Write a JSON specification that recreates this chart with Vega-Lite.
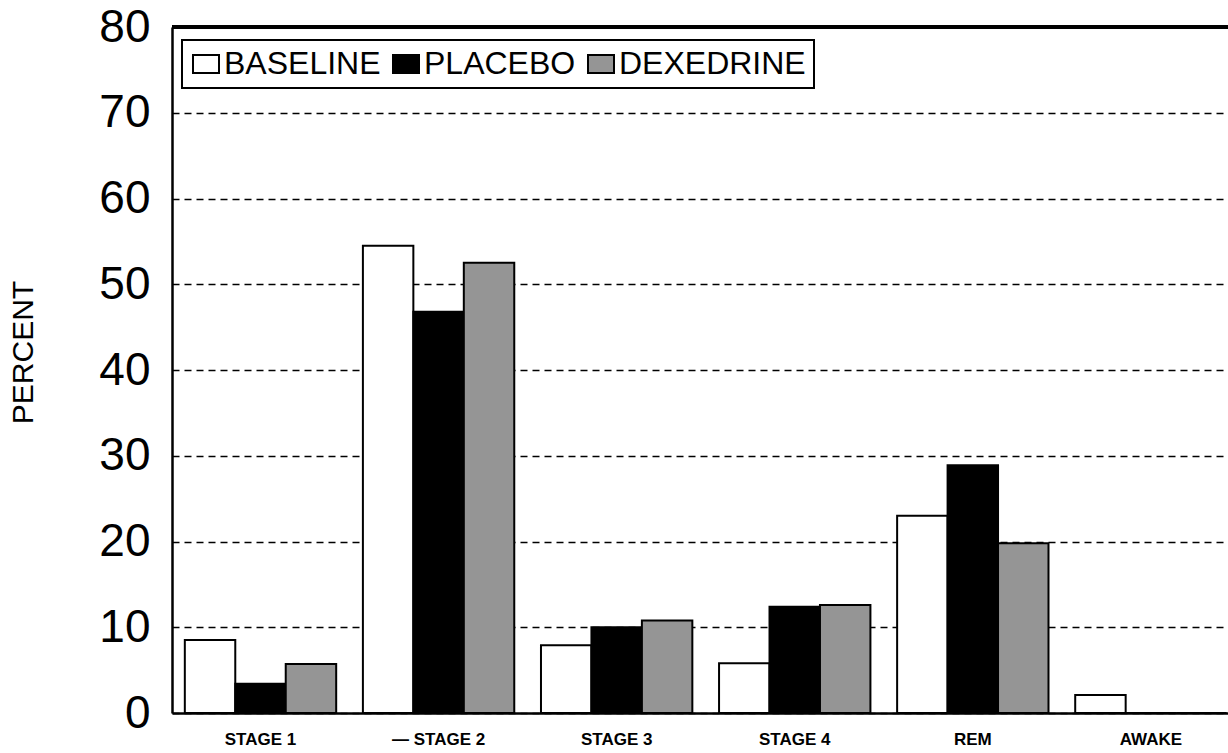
{
  "$schema": "https://vega.github.io/schema/vega-lite/v6.json",
  "width": 1056,
  "height": 686,
  "autosize": {"type": "none"},
  "padding": {"left": 172, "top": 27, "right": 0, "bottom": 40},
  "background": "white",
  "config": {
    "view": {"stroke": null},
    "font": "Liberation Sans",
    "legend": {"strokeWidth": 2}
  },
  "data": {
    "values": [
      {"stage": "STAGE 1", "condition": "BASELINE", "percent": 8.5},
      {"stage": "STAGE 1", "condition": "PLACEBO", "percent": 3.4},
      {"stage": "STAGE 1", "condition": "DEXEDRINE", "percent": 5.7},
      {"stage": "STAGE 2", "condition": "BASELINE", "percent": 54.5},
      {"stage": "STAGE 2", "condition": "PLACEBO", "percent": 46.8},
      {"stage": "STAGE 2", "condition": "DEXEDRINE", "percent": 52.5},
      {"stage": "STAGE 3", "condition": "BASELINE", "percent": 7.9},
      {"stage": "STAGE 3", "condition": "PLACEBO", "percent": 10.0},
      {"stage": "STAGE 3", "condition": "DEXEDRINE", "percent": 10.8},
      {"stage": "STAGE 4", "condition": "BASELINE", "percent": 5.8},
      {"stage": "STAGE 4", "condition": "PLACEBO", "percent": 12.4},
      {"stage": "STAGE 4", "condition": "DEXEDRINE", "percent": 12.6},
      {"stage": "REM", "condition": "BASELINE", "percent": 23.0},
      {"stage": "REM", "condition": "PLACEBO", "percent": 28.9},
      {"stage": "REM", "condition": "DEXEDRINE", "percent": 19.8},
      {"stage": "AWAKE", "condition": "BASELINE", "percent": 2.1},
      {"stage": "AWAKE", "condition": "PLACEBO", "percent": 0},
      {"stage": "AWAKE", "condition": "DEXEDRINE", "percent": 0}
    ]
  },
  "layer": [
    {
      "mark": {"type": "bar", "stroke": "black", "strokeWidth": 2},
      "encoding": {
        "x": {
          "field": "stage",
          "type": "nominal",
          "sort": ["STAGE 1", "STAGE 2", "STAGE 3", "STAGE 4", "REM", "AWAKE"],
          "scale": {"paddingInner": 0.15, "paddingOuter": 0.04, "align": 0.9},
          "axis": {
            "title": null,
            "domain": true,
            "domainColor": "black",
            "domainWidth": 2.5,
            "ticks": false,
            "grid": false,
            "labelAngle": 0,
            "labelFontSize": 17,
            "labelFontWeight": "bold",
            "labelColor": "black",
            "labelPadding": 18,
            "labelExpr": "datum.value == 'STAGE 2' ? '—   STAGE 2' : datum.value"
          }
        },
        "xOffset": {
          "field": "condition",
          "type": "nominal",
          "sort": ["BASELINE", "PLACEBO", "DEXEDRINE"],
          "scale": {"paddingInner": 0, "paddingOuter": 0}
        },
        "y": {
          "field": "percent",
          "type": "quantitative",
          "scale": {"domain": [0, 80], "nice": false},
          "axis": {
            "title": "PERCENT",
            "values": [0, 10, 20, 30, 40, 50, 60, 70, 80],
            "grid": true,
            "gridDash": [7, 5],
            "gridColor": "black",
            "gridWidth": 1.6,
            "ticks": false,
            "domainColor": "black",
            "domainWidth": 2.5,
            "labelFontSize": 46,
            "labelColor": "black",
            "labelPadding": 22,
            "labelFlush": false,
            "titleFontSize": 30,
            "titleFontWeight": "normal",
            "titleColor": "black",
            "titleX": -134,
            "titleY": 325
          }
        },
        "fill": {
          "field": "condition",
          "type": "nominal",
          "sort": ["BASELINE", "PLACEBO", "DEXEDRINE"],
          "scale": {"domain": ["BASELINE", "PLACEBO", "DEXEDRINE"], "range": ["white", "black", "#959595"]},
          "legend": {
            "title": null,
            "orient": "none",
            "legendX": 10,
            "legendY": 13,
            "direction": "horizontal",
            "strokeColor": "black",
            "fillColor": "white",
            "padding": 8,
            "symbolType": "M-1,-0.69H1V0.69H-1Z",
            "symbolSize": 676,
            "symbolStrokeColor": "black",
            "symbolStrokeWidth": 2,
            "symbolOpacity": 1,
            "labelFontSize": 32,
            "labelColor": "black",
            "labelOffset": 2,
            "labelLimit": 400,
            "columnPadding": 8
          }
        }
      }
    },
    {
      "mark": {"type": "rule", "stroke": "black", "strokeWidth": 2.5},
      "encoding": {"y": {"datum": 80}}
    }
  ]
}
